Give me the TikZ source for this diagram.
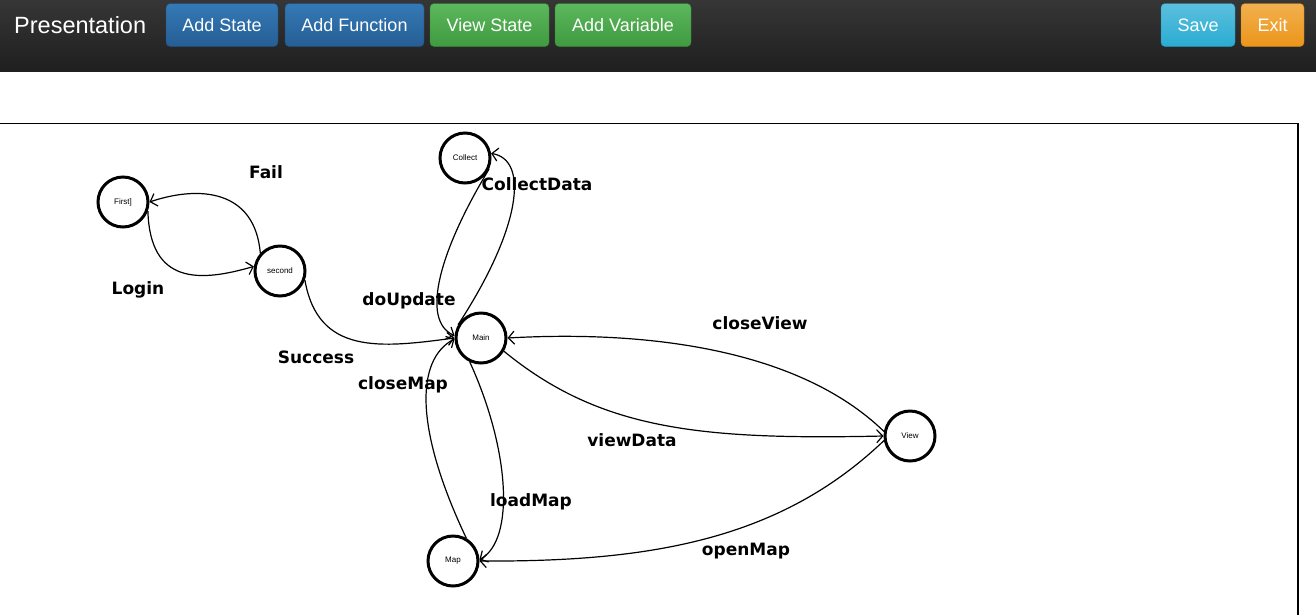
\documentclass[tikz,border=0pt]{standalone}
\usepackage{fontspec}
\setmainfont{Liberation Sans}
\newfontfamily\lblfont{DejaVu Sans}
\usetikzlibrary{arrows.meta}
\definecolor{bartop}{HTML}{363636}
\definecolor{barbot}{HTML}{1F1F1F}
\definecolor{bluetop}{HTML}{3479B6}
\definecolor{bluebot}{HTML}{265E94}
\definecolor{greentop}{HTML}{5CB85C}
\definecolor{greenbot}{HTML}{409A40}
\definecolor{infotop}{HTML}{5BC0DE}
\definecolor{infobot}{HTML}{2AABD2}
\definecolor{warntop}{HTML}{F2B04E}
\definecolor{warnbot}{HTML}{EC951A}
\tikzset{
  btn/.style={rounded corners=4pt, minimum height=43pt, inner sep=0pt, text=white,
    font=\fontsize{18}{20}\selectfont},
  bluebtn/.style={btn, top color=bluetop, bottom color=bluebot, draw=bluebot!80!black},
  greenbtn/.style={btn, top color=greentop, bottom color=greenbot, draw=greenbot!85!black},
  infobtn/.style={btn, top color=infotop, bottom color=infobot, draw=infobot!85!black},
  warnbtn/.style={btn, top color=warntop, bottom color=warnbot, draw=warnbot!85!black},
  state/.style={circle, draw=black, line width=3pt, minimum size=50pt, inner sep=0pt,
    font=\fontsize{8}{9}\selectfont},
  edge/.style={draw=black, line width=1.2pt, -{Straight Barb[length=6pt,width=13pt]}},
  lbl/.style={font=\lblfont\bfseries\fontsize{17}{19}\selectfont, inner sep=0pt}
}
\begin{document}
\begin{tikzpicture}[x=1pt,y=-1pt]
\useasboundingbox (0,0) rectangle (1316,614);
\fill[white] (0,0) rectangle (1316,614);
% top bar
\shade[top color=bartop, bottom color=barbot] (0,0) rectangle (1316,71);
\node[text=white, font=\fontsize{23.5}{26}\selectfont, anchor=west, inner sep=0pt] (title) at (14,25) {Presentation};
\node[bluebtn, minimum width=112pt] (addstate) at (222,25) {Add State};
\node[bluebtn, minimum width=139pt] (addfunc) at (354.5,25) {Add Function};
\node[greenbtn, minimum width=119pt] (viewstate) at (489.5,25) {View State};
\node[greenbtn, minimum width=136pt] (addvar) at (623,25) {Add Variable};
\node[infobtn, minimum width=74pt] (save) at (1198,25) {Save};
\node[warnbtn, minimum width=63pt] (exit) at (1272.5,25) {Exit};
% canvas frame
\draw[line width=1.3pt] (0,123.5) -- (1298,123.5) -- (1298,620);
% states
\node[state] (First) at (123,202) {First]};
\node[state] (second) at (280,271) {second};
\node[state] (Collect) at (465,158) {Collect};
\node[state] (Main) at (481,338) {Main};
\node[state] (View) at (910,436) {View};
\node[state] (Map) at (453,561) {Map};
% transitions
\draw[edge] (First.-20) .. controls (150,285) and (200,282) .. (second.170);
\draw[edge] (second.138) .. controls (255,190) and (200,185) .. (First.0);
\draw[edge] (second.-20) .. controls (318,355) and (380,348) .. (Main.180);
\draw[edge] (Collect.-25) .. controls (440,250) and (420,320) .. (Main.175);
\draw[edge] (Main.150) .. controls (520,230) and (530,160) .. (Collect.10);
\draw[edge] (Map.60) .. controls (415,430) and (415,360) .. (Main.182);
\draw[edge] (Main.-115) .. controls (510,450) and (515,540) .. (Map.3);
\draw[edge] (View.170) .. controls (800,350) and (650,330) .. (Main.0);
\draw[edge] (Main.-30) .. controls (600,430) and (700,440) .. (View.180);
\draw[edge] (View.190) .. controls (780,540) and (650,562) .. (Map.0);
% labels
\node[lbl] (lFail) at (266,172) {Fail};
\node[lbl] (lLogin) at (138,290) {Login};
\node[lbl] (lSuccess) at (316,357) {Success};
\node[lbl] (lUpdate) at (409,301) {doUpdate};
\node[lbl] (lCollect) at (537,184) {CollectData};
\node[lbl] (lcloseView) at (760,323) {closeView};
\node[lbl] (lcloseMap) at (403,385) {closeMap};
\node[lbl] (lviewData) at (632,440) {viewData};
\node[lbl] (lloadMap) at (531,502) {loadMap};
\node[lbl] (lopenMap) at (746,551) {openMap};
\end{tikzpicture}
\end{document}
